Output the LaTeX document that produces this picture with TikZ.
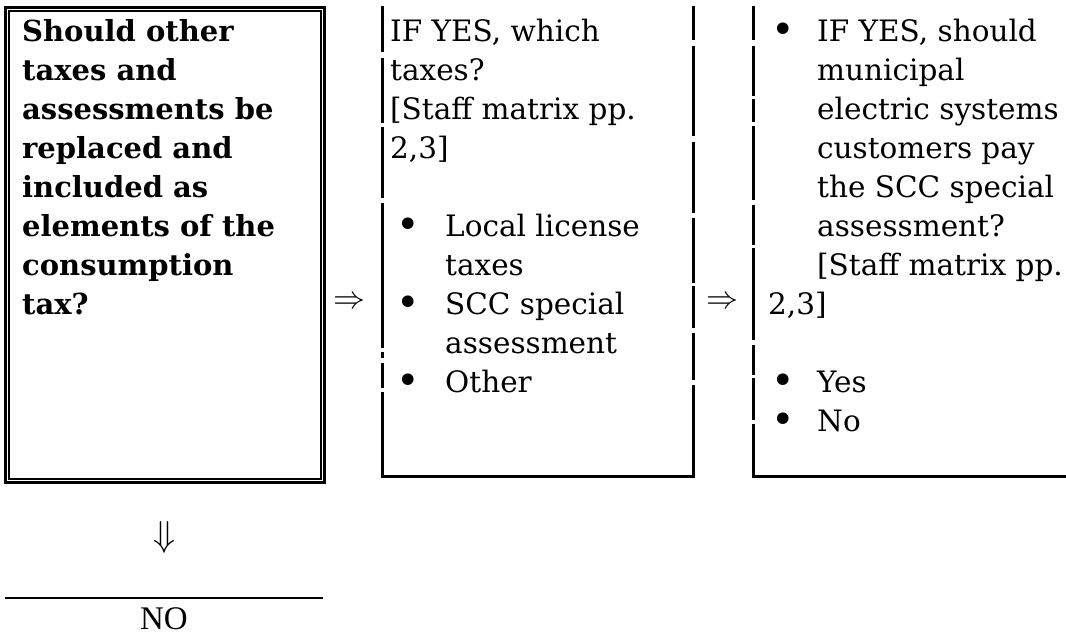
\documentclass[tikz,border=0pt]{standalone}
\usepackage{fontspec}
\setmainfont{DejaVu Serif}
\newfontfamily\timesfont{Liberation Serif}
\newcommand{\bul}{\raisebox{-1.5pt}{\scalebox{1.35}{\textbullet}}}
\begin{document}
\begin{tikzpicture}[x=1pt,y=-1pt,
  txt/.style={font=\fontsize{29.5}{39}\selectfont, anchor=north west, inner sep=0pt, align=left},
  boldtxt/.style={txt, font=\fontsize{29}{39}\selectfont\bfseries},
  frame/.style={line width=3pt},
  gap/.style={white, line width=5pt},
  sym/.style={inner sep=0pt},
  area/.style={inner sep=0pt, anchor=north west}]
\useasboundingbox (0,0) rectangle (1066,637);
% box 1 (double frame)
\node[area, draw, line width=2.8pt, minimum width=319pt, minimum height=475pt] (q) at (4,6) {};
\draw[line width=1.8pt] ([shift={(5,5)}]q.north west) rectangle ([shift={(-5,-5)}]q.south east);
\node[boldtxt] (qt) at (22,19) {Should other\\taxes and\\assessments be\\replaced and\\included as\\elements of the\\consumption\\tax?};
% box 2
\node[area, minimum width=311pt, minimum height=470pt] (b2) at (382,6) {};
\draw[frame] (b2.north west) -- (b2.south west) -- (b2.south east) -- (b2.north east);
\foreach \a/\b in {52/58,123/127,198/203,348/352,358/363,388/392}
  \draw[gap] (382,\a) -- (382,\b);
\foreach \a/\b in {40/46,136/142,213/218,283/286,328/333,380/385}
  \draw[gap] (693,\a) -- (693,\b);
\node[txt] (b2t) at (390,19) {IF YES, which\\taxes?\\{[}Staff matrix pp.\\2,3]\\\mbox{}\\
  \hspace*{6pt}\makebox[49pt][l]{\bul}Local license\\
  \hspace*{55pt}taxes\\
  \hspace*{6pt}\makebox[49pt][l]{\bul}SCC special\\
  \hspace*{55pt}assessment\\
  \hspace*{6pt}\makebox[49pt][l]{\bul}Other};
% box 3
\node[area, minimum width=313pt, minimum height=470pt] (b3) at (753,6) {};
\draw[frame] (b3.north west) -- (b3.south west) -- (b3.south east);
\foreach \a/\b in {40/46,96/99,122/126,200/205,245/248,340/345,375/378,420/424}
  \draw[gap] (753,\a) -- (753,\b);
\node[txt] (b3t) at (768,19) {\hspace*{3pt}\makebox[46pt][l]{\bul}IF YES, should\\
  \hspace*{49pt}municipal\\
  \hspace*{49pt}electric systems\\
  \hspace*{49pt}customers pay\\
  \hspace*{49pt}the SCC special\\
  \hspace*{49pt}assessment?\\
  \hspace*{49pt}{[}Staff matrix pp.\\
  2,3]\\\mbox{}\\
  \hspace*{3pt}\makebox[46pt][l]{\bul}Yes\\
  \hspace*{3pt}\makebox[46pt][l]{\bul}No};
% arrows
\node[sym] (a1) at (349,303) {\scalebox{3.2}{$\Rightarrow$}};
\node[sym] (a2) at (722,303) {\scalebox{3.2}{$\Rightarrow$}};
\node[sym] (a3) at (164,537) {\scalebox{3.6}{$\Downarrow$}};
% NO
\coordinate (l1) at (5,598);
\coordinate (l2) at (110,598);
\coordinate (l3) at (316,598);
\coordinate (l4) at (323,598);
\draw[line width=2.4pt] (l1) -- (l2);
\draw[line width=1.5pt] (l2) -- (l3);
\draw[line width=2.4pt] (l3) -- (l4);
\node[inner sep=0pt, font=\timesfont\fontsize{33}{36}\selectfont] (no) at (164,619) {NO};
\end{tikzpicture}
\end{document}
